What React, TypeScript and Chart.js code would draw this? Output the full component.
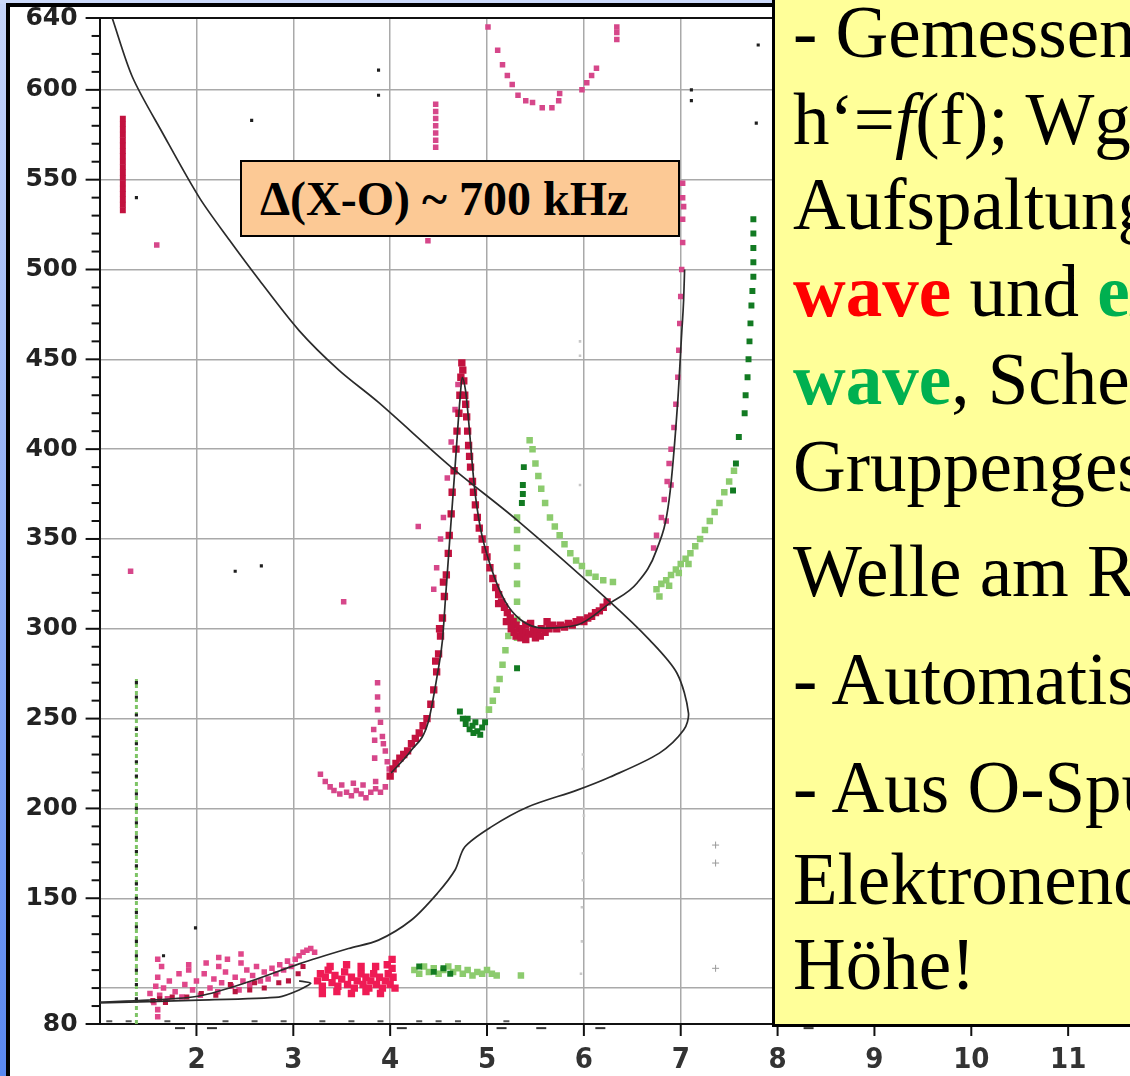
import React, { useEffect, useRef } from 'react';
import { Chart, registerables } from 'chart.js';
Chart.register(...registerables);

type P = [number, number];

// ---- axes ----
const xTickValues = [2, 3, 4, 5, 6, 7, 8, 9, 10, 11];
const yLabelValues = [80, 150, 200, 250, 300, 350, 400, 450, 500, 550, 600, 640];
const yGridValues = [100, 150, 200, 250, 300, 350, 400, 450, 500, 550, 600];
const yMinorStep = 10;

// ---- black curves ----
const profileCurve: P[] = [
  [1.0, 92.2], [1.5, 93.3], [2.03, 95.6], [2.54, 103.5], [3.06, 113.5], [3.57, 122], [3.88, 126.7],
  [4.22, 137.9], [4.49, 152.9], [4.67, 165.7], [4.77, 178.5], [5.04, 189.6], [5.42, 200.8],
  [5.93, 210.2], [6.27, 217.5], [6.78, 230.8], [7.03, 243.6], [7.08, 253.1], [6.96, 275.4],
  [6.68, 293.7], [6.27, 315], [5.31, 360.5], [4.63, 390], [3.88, 426], [3.47, 444], [3.06, 466],
  [2.65, 494], [2.34, 516.4], [2.03, 540], [1.65, 576], [1.34, 607], [1.13, 640],
];
const oFitE: P[] = [[1.0, 91.7], [2.03, 93.3], [2.85, 95], [3.06, 98.9], [3.18, 102.7], [3.06, 104]];
const oFitF: P[] = [
  [4.01, 219.7], [4.22, 232.5], [4.39, 247.5], [4.49, 275.4], [4.54, 293.7], [4.57, 316], [4.62, 353.3],
  [4.67, 390], [4.72, 427.3], [4.745, 440], [4.78, 432], [4.8, 421.8], [4.87, 379], [4.93, 356.6],
  [5.04, 334.4], [5.18, 316], [5.35, 304.9], [5.59, 300.4], [5.93, 302.1], [6.27, 314.3], [6.55, 325.5],
  [6.75, 343.8], [6.88, 371.7], [6.97, 427.3], [7.01, 464.6], [7.03, 483], [7.04, 500],
];

// ---- O trace (crimson) ----
const oTraceCrimson: P[] = [
  [4.0, 218], [4.03, 222], [4.06, 225], [4.1, 228], [4.14, 230], [4.18, 232], [4.22, 236], [4.26, 239],
  [4.3, 242], [4.34, 246], [4.38, 250], [4.42, 258], [4.45, 266], [4.48, 276], [4.5, 286], [4.52, 296],
  [4.54, 306], [4.56, 318], [4.58, 330], [4.6, 342], [4.61, 352], [4.63, 364], [4.64, 376], [4.66, 388],
  [4.68, 400], [4.69, 410], [4.71, 420], [4.72, 430], [4.73, 440], [4.74, 448], [4.75, 444], [4.76, 438],
  [4.77, 430], [4.78, 425], [4.79, 418], [4.8, 410], [4.81, 402], [4.82, 396], [4.83, 390], [4.85, 382],
  [4.86, 376], [4.88, 369], [4.9, 362], [4.92, 356], [4.95, 350], [4.98, 344], [5.0, 340], [5.03, 334],
  [5.06, 328], [5.09, 323], [5.12, 319], [5.15, 315], [5.18, 312], [5.21, 309], [5.24, 306], [5.27, 304],
  [5.3, 302], [5.33, 300], [5.36, 299], [5.4, 298], [5.44, 297], [5.48, 299], [5.52, 298], [5.56, 300],
  [5.6, 298], [5.64, 300], [5.68, 302], [5.72, 300], [5.76, 302], [5.8, 301], [5.84, 303], [5.88, 302],
  [5.92, 304], [5.96, 305], [6.0, 304], [6.04, 306], [6.08, 307], [6.12, 309], [6.16, 310], [6.2, 312],
  [6.24, 315], [5.3, 296], [5.35, 295], [5.4, 302], [5.45, 303], [5.5, 295], [5.55, 296], [5.62, 304],
  [5.4, 294], [5.28, 298], [5.2, 304], [5.12, 314], [5.25, 300], [4.47, 282], [4.51, 300], [4.55, 326],
];

// ---- pink / magenta echoes ----
const pinkEchoes: P[] = [
  [4.45, 322], [4.48, 334], [4.52, 350], [4.55, 362], [4.59, 384], [4.63, 404], [4.67, 422], [4.7, 436],
  [3.87, 270], [3.87, 262], [3.87, 255], [3.9, 248], [3.92, 240], [3.95, 232], [3.97, 226], [3.93, 236],
  [3.99, 222], [3.85, 215], [3.84, 228], [3.84, 238], [3.83, 244],
  [3.28, 219], [3.33, 215], [3.38, 212], [3.42, 210], [3.48, 208], [3.55, 209], [3.6, 207], [3.65, 210],
  [3.7, 208], [3.75, 206], [3.8, 209], [3.85, 211], [3.9, 209], [3.95, 212], [3.5, 213], [3.72, 213], [3.62, 214],
  [6.72, 345], [6.75, 352], [6.8, 362], [6.83, 372], [6.86, 382], [6.88, 392], [6.9, 400], [6.93, 412],
  [6.95, 425], [6.97, 440], [6.98, 455], [6.99, 470], [7.0, 485], [7.01, 500], [7.02, 515], [7.02, 528],
  [6.85, 360], [6.9, 380], [7.02, 540], [7.02, 548], [7.03, 535],
  [5.01, 635], [5.11, 622], [5.16, 614], [5.21, 608], [5.26, 603], [5.32, 597], [5.4, 594], [5.47, 593],
  [5.57, 590], [5.67, 590], [5.74, 594], [5.75, 598], [5.98, 600], [6.03, 604], [6.08, 608], [6.13, 612],
  [6.34, 628], [6.34, 632], [6.34, 635],
  [4.47, 568], [4.47, 572], [4.47, 576], [4.47, 580], [4.47, 584], [4.47, 588], [4.47, 592],
  [1.32, 332], [3.52, 315], [4.29, 357], [1.59, 513.6], [4.39, 516], [4.39, 520],
];
const crimsonBar: P[] = [
  [1.24, 533], [1.24, 536], [1.24, 539], [1.24, 542], [1.24, 545], [1.24, 548], [1.24, 551], [1.24, 554],
  [1.24, 557], [1.24, 560], [1.24, 563], [1.24, 566], [1.24, 569], [1.24, 572], [1.24, 575], [1.24, 578],
  [1.24, 581], [1.24, 584],
];

// ---- E region echoes ----
const eLayerPink: P[] = [
  [1.52, 97], [1.56, 92], [1.58, 101], [1.6, 88], [1.6, 106], [1.62, 96], [1.64, 112], [1.66, 100], [1.7, 94],
  [1.72, 104], [1.78, 98], [1.82, 108], [1.85, 95], [1.88, 102], [1.92, 110], [1.96, 99], [2.0, 104], [2.04, 96],
  [2.08, 108], [2.1, 114], [2.14, 100], [2.18, 105], [2.22, 98], [2.26, 103], [2.3, 109], [2.32, 116], [2.36, 101],
  [2.4, 106], [2.44, 99], [2.48, 104], [2.52, 110], [2.55, 102], [2.58, 107], [2.62, 112], [2.66, 104], [2.7, 109],
  [2.74, 105], [2.78, 111], [2.82, 108], [2.86, 113], [2.9, 110], [2.94, 115], [2.98, 112], [3.02, 116],
  [3.06, 118], [3.1, 120], [3.14, 121], [3.18, 122], [3.22, 120], [1.92, 113], [2.23, 112], [2.23, 117],
  [2.46, 114], [2.46, 119], [1.6, 116], [1.6, 84],
];
const eLayerCrimson: P[] = [
  [1.55, 93], [1.62, 94], [1.68, 92], [1.75, 95], [1.9, 95], [2.05, 97], [2.2, 96], [2.4, 98], [2.55, 99],
  [2.7, 100], [2.85, 103], [2.95, 104], [3.05, 108], [3.1, 112], [2.6, 103], [2.35, 102],
];
const eLayerRed: P[] = [
  [3.25, 104], [3.28, 108], [3.3, 101], [3.33, 106], [3.36, 110], [3.4, 103], [3.43, 107], [3.46, 101],
  [3.5, 105], [3.53, 109], [3.56, 102], [3.6, 106], [3.63, 100], [3.66, 104], [3.7, 108], [3.72, 102],
  [3.75, 106], [3.78, 100], [3.8, 104], [3.83, 108], [3.86, 102], [3.89, 106], [3.92, 100], [3.95, 104],
  [3.98, 108], [4.0, 102], [4.03, 106], [4.05, 100], [3.38, 112], [3.55, 113], [3.7, 112], [3.85, 112],
  [3.97, 113], [3.3, 97], [3.45, 98], [3.6, 97], [3.75, 98], [3.9, 97], [4.02, 111], [4.02, 116],
];

// ---- X trace (green) ----
const xTraceLight: P[] = [
  [5.02, 255], [5.06, 260], [5.1, 266], [5.13, 272], [5.16, 280], [5.19, 288], [5.22, 296], [5.24, 305],
  [5.31, 295], [5.31, 305], [5.31, 315], [5.31, 325], [5.31, 335], [5.31, 345], [5.31, 355], [5.31, 362],
  [5.44, 405], [5.47, 400], [5.5, 392], [5.53, 385], [5.56, 378], [5.6, 370], [5.65, 362], [5.7, 357],
  [5.75, 352], [5.8, 347], [5.86, 342], [5.92, 338], [5.98, 335], [6.05, 331], [6.12, 329], [6.2, 327], [6.3, 326],
  [6.75, 322], [6.8, 325], [6.85, 327], [6.9, 330], [6.95, 333], [7.0, 336], [7.05, 339], [7.1, 342],
  [7.15, 346], [7.2, 350], [7.25, 355], [7.3, 360], [7.35, 365], [7.4, 370], [7.45, 376], [7.5, 382], [7.55, 388],
  [6.78, 318], [6.88, 324], [6.98, 331], [7.08, 336],
  [4.25, 110], [4.3, 108], [4.35, 112], [4.4, 109], [4.45, 111], [4.5, 108], [4.55, 110], [4.6, 112],
  [4.65, 109], [4.7, 111], [4.75, 108], [4.8, 110], [4.85, 107], [4.9, 109], [4.95, 108], [5.0, 110],
  [5.05, 108], [5.1, 107], [5.35, 107],
];
const xTraceDark: P[] = [
  [4.72, 254], [4.75, 250], [4.78, 247], [4.82, 244], [4.86, 242], [4.9, 243], [4.95, 245], [4.98, 248],
  [4.85, 246], [4.8, 250], [4.88, 248], [4.93, 241],
  [5.36, 370], [5.37, 380], [5.38, 390], [5.37, 375], [5.31, 278],
  [7.6, 406.8], [7.57, 392], [7.54, 377],
  [7.75, 528], [7.75, 520], [7.75, 512], [7.75, 504], [7.75, 496], [7.74, 488], [7.73, 480], [7.72, 470],
  [7.71, 460], [7.7, 450], [7.69, 440], [7.67, 430], [7.66, 420],
  [4.3, 112], [4.45, 109], [4.55, 111], [4.62, 108],
];
const xLowBandH: P[] = [[1.38, 80], [1.38, 272]];

// ---- isolated dots ----
const blackDots: P[] = [
  [1.99, 133.5], [3.88, 611], [3.88, 597], [7.8, 625], [7.11, 600], [7.11, 594], [7.78, 581.5], [2.57, 583],
  [1.38, 540], [2.4, 332], [2.67, 335], [1.66, 118],
  [1.38, 270], [1.38, 262], [1.38, 252], [1.38, 244], [1.38, 236], [1.38, 226], [1.38, 218], [1.38, 208],
  [1.38, 200], [1.38, 192], [1.38, 184], [1.38, 176], [1.38, 168], [1.38, 158], [1.38, 150], [1.38, 142],
  [1.38, 134], [1.38, 126], [1.38, 118], [1.38, 110], [1.38, 102], [1.38, 94],
];
const grayMarks: P[] = [[7.36, 179.6], [7.36, 169.6], [7.36, 111]];
const faintDots: P[] = [
  [5.99, 230], [5.99, 222], [6.0, 200], [6.0, 196], [5.99, 175], [5.99, 160], [5.98, 145], [5.98, 126],
  [5.97, 108], [5.96, 460], [5.96, 452], [5.96, 380],
];
const axisDashes: P[] = [[1.83, 77.7], [2.16, 77.7], [4.12, 77.7], [5.15, 77.7], [5.56, 77.7], [6.17, 77.7], [8.32, 77.7]];
const baseDashes: P[] = [
  [1.1, 81.5], [1.3, 81.5], [1.7, 81.5], [2.3, 81.5], [2.6, 81.5], [2.9, 81.5], [3.3, 81.5], [3.6, 81.5],
  [3.9, 81.5], [4.3, 81.5], [4.5, 81.5], [4.7, 81.5], [5.2, 81.5],
];

const toXY = (a: P[]) => a.map(([x, y]) => ({ x, y }));

const tickPlugin = {
  id: 'manualTicks',
  afterDraw(chart: any) {
    const { ctx, chartArea, scales } = chart;
    ctx.save();
    ctx.strokeStyle = '#111';
    ctx.lineWidth = 2;
    for (const t of scales.y.ticks) {
      const py = scales.y.getPixelForValue(t.value);
      const len = yLabelValues.includes(t.value) ? 14 : 8;
      ctx.beginPath();
      ctx.moveTo(chartArea.left - len, py);
      ctx.lineTo(chartArea.left, py);
      ctx.stroke();
    }
    for (const t of scales.x.ticks) {
      const px = scales.x.getPixelForValue(t.value);
      ctx.beginPath();
      ctx.moveTo(px, chartArea.bottom);
      ctx.lineTo(px, chartArea.bottom + 12);
      ctx.stroke();
    }
    ctx.restore();
  },
};

const pts = (data: P[], color: string, radius: number, order: number, style: any = 'rect', extra: any = {}) => ({
  data: toXY(data),
  showLine: false,
  pointStyle: style,
  pointRadius: radius,
  pointBackgroundColor: color,
  pointBorderColor: color,
  pointBorderWidth: 0,
  order,
  ...extra,
});

const lineDs = (data: P[], extra: any = {}) => ({
  data: toXY(data),
  showLine: true,
  borderColor: '#2b2b2b',
  borderWidth: 1.7,
  pointRadius: 0,
  order: 0,
  ...extra,
});

function IonoChart() {
  const ref = useRef<HTMLCanvasElement>(null);
  useEffect(() => {
    if (!ref.current) return;
    const chart = new Chart(ref.current, {
      type: 'scatter',
      data: {
        datasets: [
          lineDs(profileCurve, { tension: 0.3 }),
          lineDs(oFitE, { tension: 0.2 }),
          lineDs(oFitF, { cubicInterpolationMode: 'monotone' }),
          {
            data: toXY(xLowBandH), showLine: true, borderColor: '#7ec466', borderWidth: 3,
            borderDash: [4, 3], pointRadius: 0, order: 6,
          },
          pts(blackDots, '#1e1e1e', 2.2, 1, 'rect'),
          pts(oTraceCrimson, '#c2123f', 5.2, 2),
          pts(crimsonBar, '#c2123f', 4.2, 2),
          pts(pinkEchoes, '#d6478a', 3.9, 3),
          pts(eLayerRed, '#ef1b55', 5.2, 3),
          pts(eLayerCrimson, '#b81540', 3.6, 3),
          pts(eLayerPink, '#e0478a', 3.9, 4),
          pts(xTraceDark, '#127a22', 4.2, 4),
          pts(xTraceLight, '#8ccb6e', 4.6, 5),
          pts(grayMarks, '#9a9a9a', 3.5, 5, 'cross', { pointBorderWidth: 1 }),
          pts(faintDots, '#c8c8c8', 1.8, 7),
          pts(axisDashes, '#333', 5, 1, 'line', { pointBorderWidth: 2, clip: false }),
          pts(baseDashes, '#555', 3, 1, 'line', { pointBorderWidth: 2 }),
        ],
      },
      options: {
        animation: false,
        responsive: false,
        events: [],
        layout: { padding: { top: 18, left: 0, right: 0, bottom: 0 } },
        plugins: { legend: { display: false }, tooltip: { enabled: false } },
        scales: {
          x: {
            type: 'linear',
            min: 1,
            max: 12,
            afterBuildTicks: (s: any) => { s.ticks = xTickValues.map((v) => ({ value: v })); },
            afterFit: (s: any) => { s.height = 52; s.paddingLeft = 0; s.paddingRight = 0; },
            border: { display: true, color: '#111', width: 2 },
            grid: { color: '#a9a9a9', lineWidth: 1.5, drawTicks: false },
            ticks: {
              autoSkip: false,
              maxRotation: 0,
              padding: 19,
              color: '#333',
              font: { family: '"DejaVu Sans Condensed", "DejaVu Sans", sans-serif', size: 29, weight: 'bold' },
              callback: (v: any) => String(v),
            },
          },
          y: {
            type: 'linear',
            min: 80,
            max: 640,
            afterBuildTicks: (s: any) => {
              const arr: any[] = [];
              for (let v = 80; v <= 640; v += yMinorStep) arr.push({ value: v });
              s.ticks = arr;
            },
            afterFit: (s: any) => { s.width = 99.6; s.paddingTop = 0; s.paddingBottom = 0; },
            border: { display: true, color: '#111', width: 2 },
            grid: {
              drawTicks: false,
              color: (c: any) => {
                const v = c.tick && c.tick.value;
                if (v === 640) return '#111';
                return yGridValues.includes(v) ? '#a9a9a9' : 'rgba(0,0,0,0)';
              },
              lineWidth: (c: any) => (c.tick && c.tick.value === 640 ? 2 : 1.5),
            },
            ticks: {
              autoSkip: false,
              padding: 22,
              color: '#222',
              font: { family: '"DejaVu Sans", sans-serif', size: 25, weight: 'bold' },
              callback: (v: any) => (yLabelValues.includes(Number(v)) ? String(v) : ''),
            },
          },
        },
      } as any,
      plugins: [tickPlugin],
    });
    return () => chart.destroy();
  }, []);
  return <canvas ref={ref} width={1172} height={1076} style={{ position: 'absolute', left: 0, top: 0, width: 1172, height: 1076 }} />;
}

const serif = '"Liberation Serif", "Times New Roman", serif';
const lineStyle = (baseline: number): React.CSSProperties => ({
  position: 'absolute', left: 18, top: baseline - 62.6, whiteSpace: 'nowrap',
  fontFamily: serif, fontSize: 73, lineHeight: '80px', color: '#000',
});
const red = { color: '#ff0000', fontWeight: 'bold' as const };
const green = { color: '#00b050', fontWeight: 'bold' as const };

export default function App() {
  return (
    <div style={{ position: 'fixed', left: 0, top: 0, width: 1130, height: 1076, overflow: 'hidden', background: '#ffffff' }}>
      <div style={{ position: 'absolute', left: 0, top: 0, width: 8, height: 1076, background: 'linear-gradient(#c6d5fa, #5a88f0)' }} />
      <div style={{ position: 'absolute', left: 0, top: 0, width: 1130, height: 4, background: '#cbd9fa' }} />
      <div style={{ position: 'absolute', left: 6, top: 3, width: 780, height: 4, background: '#000' }} />
      <div style={{ position: 'absolute', left: 6, top: 3, width: 4, height: 1073, background: '#000' }} />
      <IonoChart />
      <div style={{ position: 'absolute', left: 240, top: 160, width: 440, height: 77, boxSizing: 'border-box', border: '2px solid #000', background: '#fcc995' }}>
        <div style={{ position: 'absolute', left: 18, top: 10.8, whiteSpace: 'nowrap', fontFamily: serif, fontWeight: 'bold', fontSize: 48, lineHeight: '52px', color: '#000' }}>
          Δ(X-O) ~ 700 kHz
        </div>
      </div>
      <div style={{ position: 'absolute', left: 772, top: -5, width: 420, height: 1032, boxSizing: 'border-box', border: '3px solid #000', background: '#ffff99', overflow: 'hidden' }}>
        <div style={lineStyle(58)}>- Gemessene Kurve</div>
        <div style={lineStyle(145)}>h‘=<i>f</i>(f); Wg. B-Feld</div>
        <div style={lineStyle(230)}>Aufspaltung in ordinary</div>
        <div style={lineStyle(317)}><span style={red}>wave</span> und <span style={green}>extraordinary</span></div>
        <div style={lineStyle(405)}><span style={green}>wave</span>, Scheinbare Höhe</div>
        <div style={lineStyle(492)}>Gruppengeschwindigkeit</div>
        <div style={lineStyle(597)}>Welle am Reflexionspunkt</div>
        <div style={lineStyle(705)}>- Automatische Auswertung</div>
        <div style={lineStyle(813)}>- Aus O-Spur folgt</div>
        <div style={lineStyle(905)}>Elektronendichte über</div>
        <div style={lineStyle(990)}>Höhe!</div>
      </div>
    </div>
  );
}
